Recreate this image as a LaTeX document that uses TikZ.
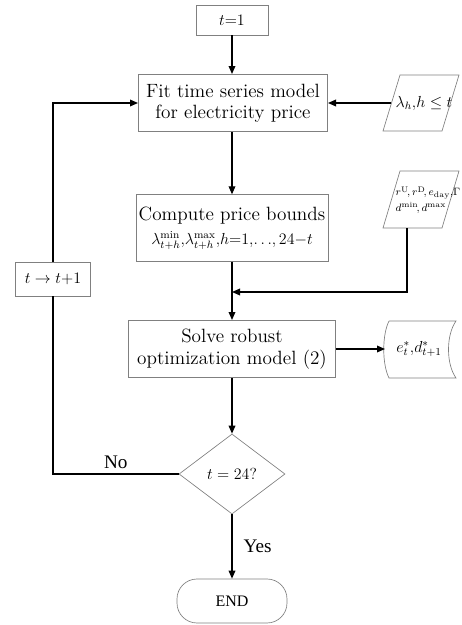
\documentclass[tikz,border=0pt]{standalone}
\usepackage{amsmath}
\usepackage{fontspec}
\newfontfamily\timesfont{Liberation Serif}
\usetikzlibrary{arrows.meta,shapes.geometric}

\begin{document}
\begin{tikzpicture}[x=0.75pt, y=-0.75pt,
  every node/.style={font=\Large},
  box/.style={draw=gray, line width=0.5pt, inner sep=2pt, align=center},
  shapeline/.style={draw=gray, line width=0.5pt},
  flow/.style={line width=0.9pt, -{Triangle[length=6pt,width=5pt]}},
  link/.style={line width=0.9pt}]
  \useasboundingbox (0,0) rectangle (461,625);

  % main column
  \node[box, minimum width=54pt, minimum height=22.5pt, font=\large] (start) at (232,20) {$t{=}1$};
  \node[box, minimum width=142pt, minimum height=43pt] (fit) at (233,103)
    {Fit time series model\\[-2pt]for electricity price};
  \node[box, minimum width=143pt, minimum height=50pt] (bounds) at (232,228)
    {Compute price bounds\\[0pt]
     \large$\lambda^{\min}_{t+h},\!\lambda^{\max}_{t+h},\!h{=}1,\!\ldots\!,24{-}t$};
  \node[box, minimum width=155pt, minimum height=43pt] (solve) at (232,349)
    {Solve robust\\[-2pt]optimization model (2)};
  \node[shapeline, diamond, minimum width=79.5pt, minimum height=60pt,
    inner sep=0pt, font=\large] (check) at (232,474) {$t=24$?};
  \node[shapeline, rounded corners=15pt, minimum width=82.5pt,
    minimum height=33pt, font=\timesfont\large] (stop) at (232,601) {END};

  % loop back
  \node[box, minimum width=56pt, minimum height=25.5pt, font=\large] (next) at (53,279)
    {$t\rightarrow t{+}1$};

  % inputs and output on the right
  \draw[shapeline] (400,75) -- (459,75) -- (442,131) -- (383,131) -- cycle;
  \node[font=\large] (prices) at (424,103) {$\lambda_h,\!h\leq t$};
  \coordinate (pricesw) at (391,103);

  \draw[shapeline] (400,171) -- (459,171) -- (442,228) -- (383,228) -- cycle;
  \node[font=\footnotesize, align=left, inner sep=0pt] (params) at (428,200)
    {$r^{\mathrm{U}}\!,r^{\mathrm{D}}\!,e_{\mathrm{day}},\!\Gamma$\\[2pt]
     $d^{\mathrm{min}}\!,d^{\mathrm{max}}$};
  \coordinate (paramss) at (407,228);

  \draw[shapeline] (389,321) -- (456,321)
    .. controls (446,335) and (446,364) .. (456,378) -- (389,378)
    .. controls (382,364) and (382,335) .. (389,321);
  \node[font=\large] (result) at (419,349) {$e_t^*,\!d_{t+1}^*$};
  \coordinate (resultw) at (385,349);

  \coordinate (merge) at (232,292);

  \draw[flow] (start) -- (start |- fit.north);
  \draw[flow] (fit.south -| bounds) -- (bounds);
  \draw[flow] (bounds) -- (solve);
  \draw[flow] (paramss) |- (merge);
  \draw[flow] (pricesw) -- (fit.east);
  \draw[flow] (solve) -- (resultw);
  \draw[flow] (solve) -- (check);
  \draw[flow] (check) -- node[right=5pt, font=\timesfont\Large] {Yes} (stop);
  \draw[link] (check.west) -- node[above, font=\timesfont\Large] {No} (check.west -| next)
    -- (next.south);
  \draw[flow] (next.north) |- (fit.west);
\end{tikzpicture}
\end{document}
